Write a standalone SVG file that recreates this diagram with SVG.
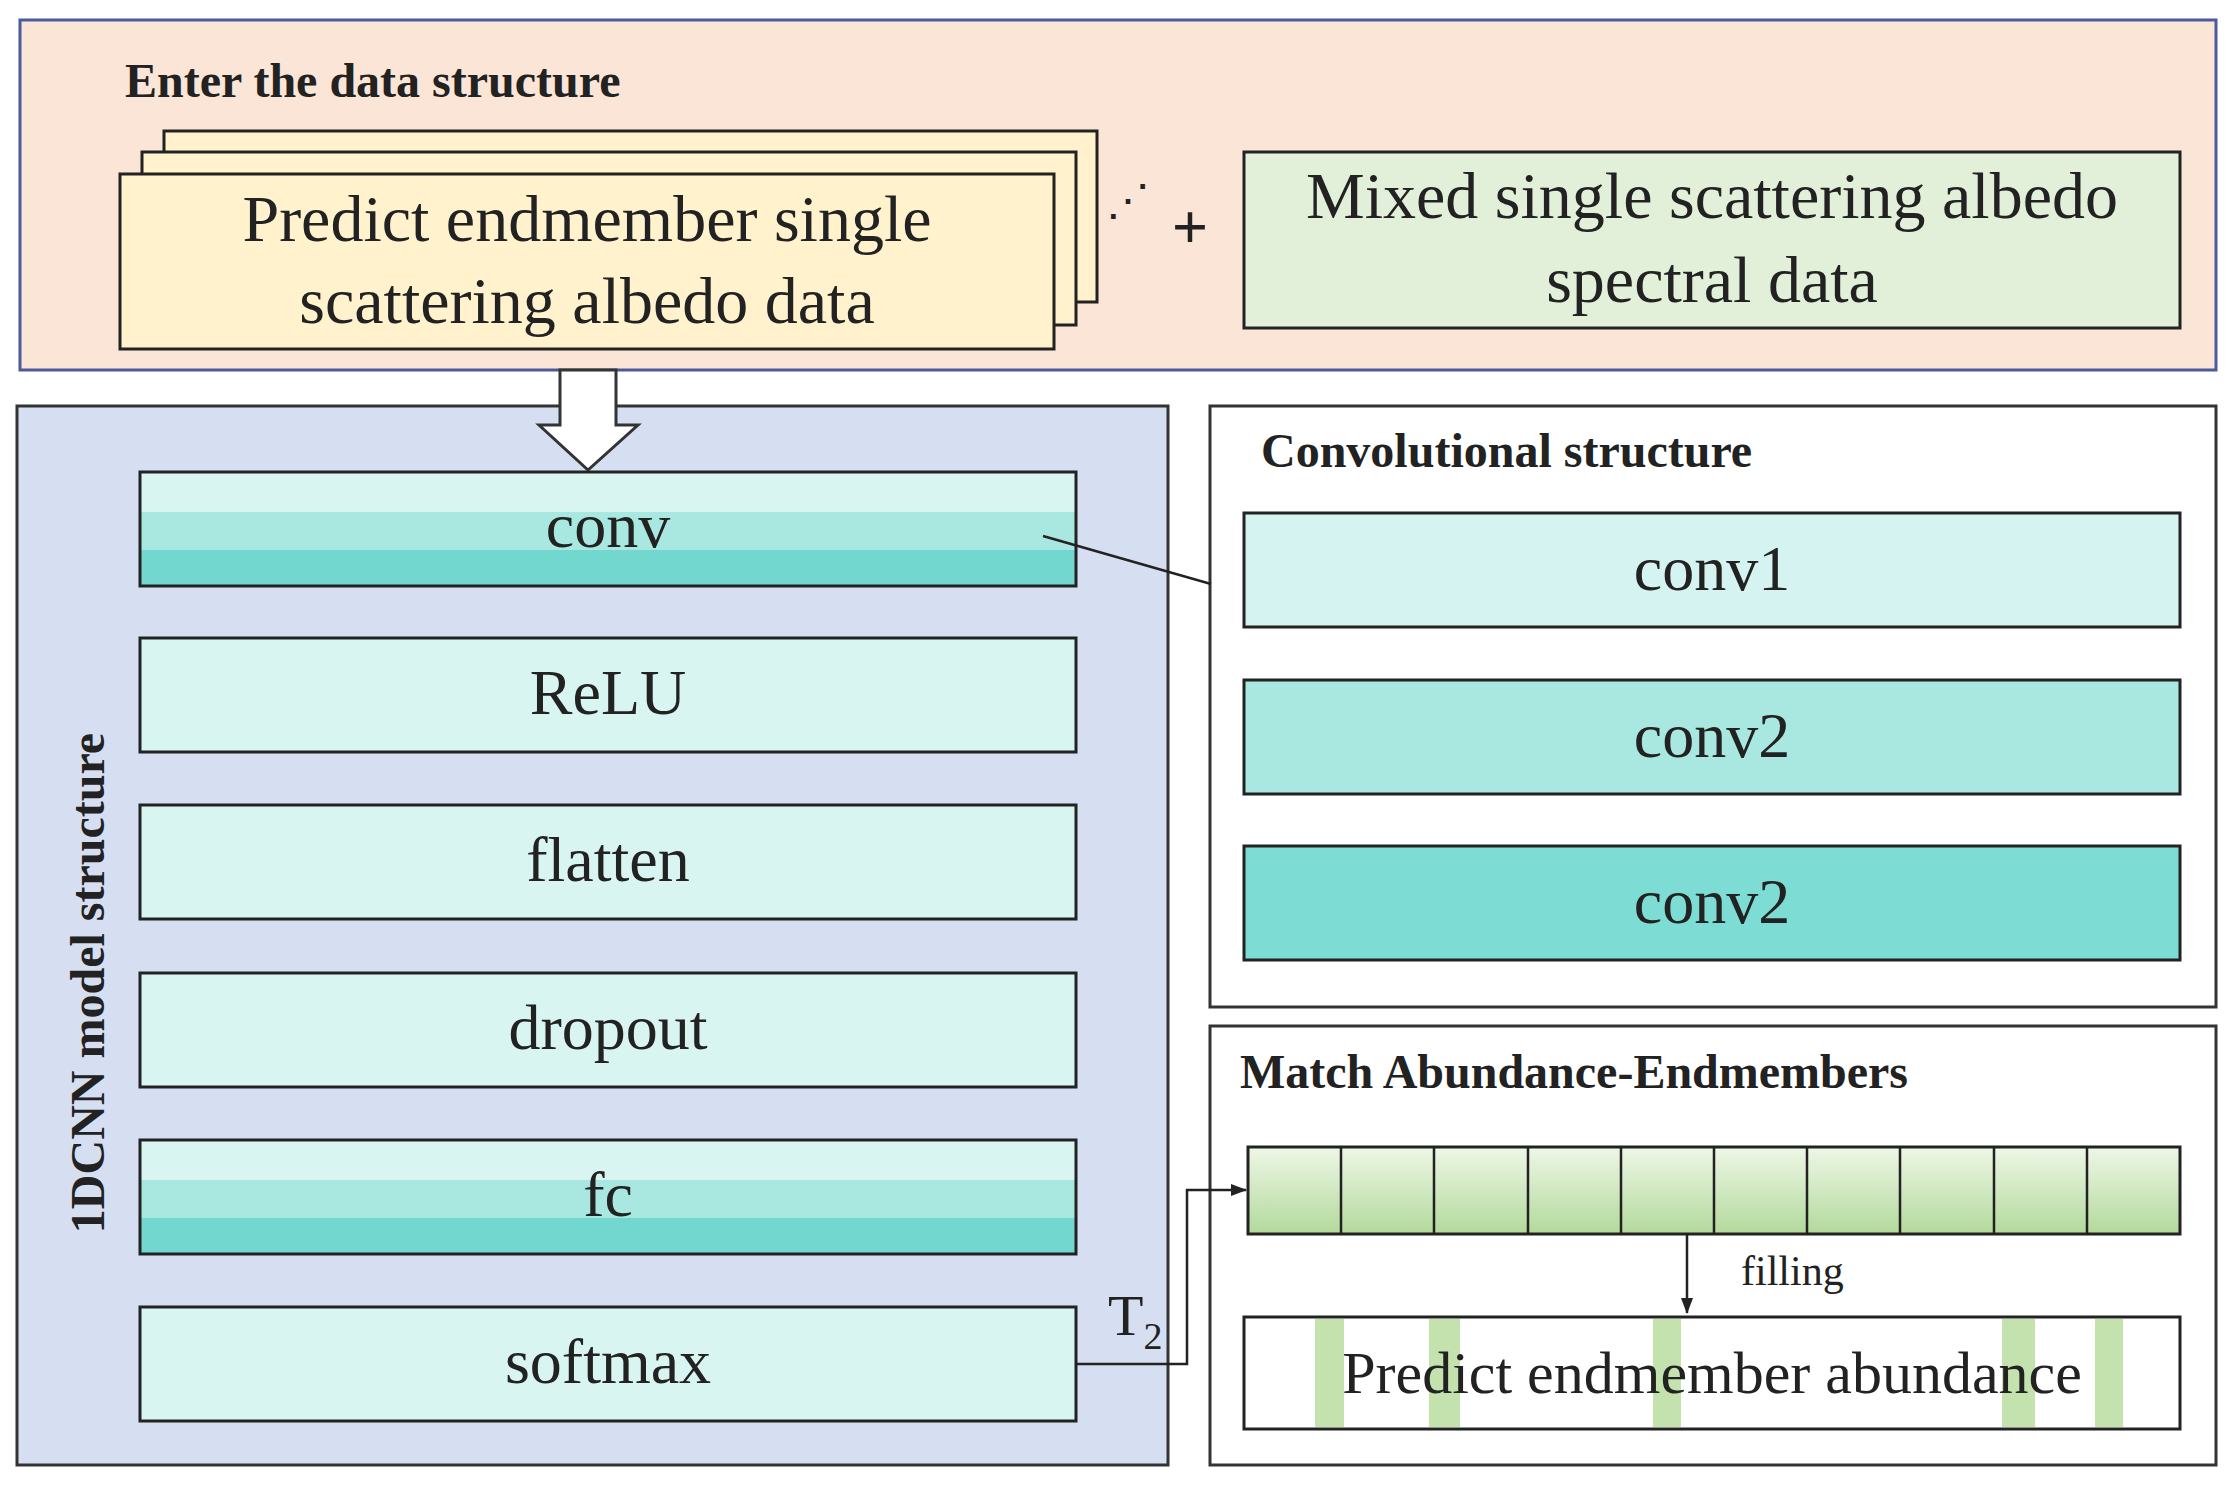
<svg xmlns="http://www.w3.org/2000/svg" width="2234" height="1487" viewBox="0 0 2234 1487">
<style>
.t{font-family:"Liberation Serif","Times New Roman",serif;fill:#222}
.b{font-weight:bold}
.c{text-anchor:middle}
.box{stroke:#222;stroke-width:3}
.ln{stroke:#222;stroke-width:2.5;fill:none}
</style>
<defs>
<linearGradient id="stripe" x1="0" y1="0" x2="0" y2="1">
<stop offset="0" stop-color="#d8f5f2"/><stop offset="0.35" stop-color="#d8f5f2"/>
<stop offset="0.35" stop-color="#a9e8e1"/><stop offset="0.68" stop-color="#a9e8e1"/>
<stop offset="0.68" stop-color="#72d8cf"/><stop offset="1" stop-color="#72d8cf"/>
</linearGradient>
<linearGradient id="cell" x1="0" y1="0" x2="0" y2="1">
<stop offset="0" stop-color="#eef7e6"/><stop offset="1" stop-color="#b2d99c"/>
</linearGradient>
<marker id="ah2" markerWidth="16" markerHeight="16" refX="15" refY="8" orient="auto" markerUnits="userSpaceOnUse" viewBox="0 0 16 16"><path d="M0,2 L16,8 L0,14z" fill="#222"/></marker>
</defs>
<rect width="2234" height="1487" fill="#fff"/>

<g id="input-panel">
<rect x="20" y="20" width="2196" height="350" fill="#fbe5d6" stroke="#4a5a9a" stroke-width="3"/>
<text x="125" y="97" class="t b" font-size="48">Enter the data structure</text>
</g>
<g id="endmember-cards">
<rect x="164" y="131" width="933" height="171" fill="#fff2cc" class="box"/>
<rect x="142" y="152" width="934" height="173" fill="#fff2cc" class="box"/>
<rect x="120" y="174" width="934" height="175" fill="#fff2cc" class="box"/>
<text x="587" y="241" class="t c" font-size="66">Predict endmember single</text>
<text x="587" y="323" class="t c" font-size="66">scattering albedo data</text>
<text x="1128" y="215" class="t c" font-size="44">⋰</text>
<text x="1190" y="248" class="t c b" font-size="64">+</text>
</g>
<g id="mixed-data">
<rect x="1244" y="152" width="936" height="176" fill="#e2f0d9" class="box"/>
<text x="1712" y="218" class="t c" font-size="66">Mixed single scattering albedo</text>
<text x="1712" y="302" class="t c" font-size="66">spectral data</text>
</g>

<g id="model-panel">
<rect x="17" y="406" width="1151" height="1059" fill="#d6dff2" stroke="#333" stroke-width="3"/>
<text transform="translate(104,983) rotate(-90)" class="t b c" font-size="48">1DCNN model structure</text>
<path d="M560,370 L616,370 L616,425 L638,425 L588,470 L539,425 L560,425 Z" fill="#fff" stroke="#333" stroke-width="3"/>
</g>
<g id="layer-conv"><rect x="140" y="472" width="936" height="114" fill="url(#stripe)" class="box"/><text x="608" y="547" class="t c" font-size="64">conv</text></g>
<g id="layer-relu"><rect x="140" y="638" width="936" height="114" fill="#d8f5f2" class="box"/><text x="608" y="714" class="t c" font-size="64">ReLU</text></g>
<g id="layer-flatten"><rect x="140" y="805" width="936" height="114" fill="#d8f5f2" class="box"/><text x="608" y="881" class="t c" font-size="64">flatten</text></g>
<g id="layer-dropout"><rect x="140" y="973" width="936" height="114" fill="#d8f5f2" class="box"/><text x="608" y="1049" class="t c" font-size="64">dropout</text></g>
<g id="layer-fc"><rect x="140" y="1140" width="936" height="114" fill="url(#stripe)" class="box"/><text x="608" y="1216" class="t c" font-size="64">fc</text></g>
<g id="layer-softmax"><rect x="140" y="1307" width="936" height="114" fill="#d8f5f2" class="box"/><text x="608" y="1383" class="t c" font-size="64">softmax</text></g>

<g id="conv-panel">
<rect x="1210" y="406" width="1006" height="601" fill="#fff" stroke="#333" stroke-width="3"/>
<text x="1261" y="467" class="t b" font-size="48">Convolutional structure</text>
</g>
<g id="conv1"><rect x="1244" y="513" width="936" height="114" fill="#d5f3f0" class="box"/><text x="1712" y="590" class="t c" font-size="64">conv1</text></g>
<g id="conv2a"><rect x="1244" y="680" width="936" height="114" fill="#a9e8e1" class="box"/><text x="1712" y="757" class="t c" font-size="64">conv2</text></g>
<g id="conv2b"><rect x="1244" y="846" width="936" height="114" fill="#7dddd5" class="box"/><text x="1712" y="923" class="t c" font-size="64">conv2</text></g>

<g id="match-panel">
<rect x="1210" y="1026" width="1006" height="439" fill="#fff" stroke="#333" stroke-width="3"/>
<text x="1240" y="1088" class="t b" font-size="48">Match Abundance-Endmembers</text>
</g>
<g id="cells">
<rect x="1248" y="1147" width="932" height="87" fill="url(#cell)" class="box"/>
<path d="M1341,1147V1234M1434,1147V1234M1528,1147V1234M1621,1147V1234M1714,1147V1234M1807,1147V1234M1900,1147V1234M1994,1147V1234M2087,1147V1234" class="ln"/>
</g>
<g id="abundance">
<rect x="1244" y="1317" width="936" height="112" fill="#fff" class="box"/>
<g fill="#c4e2ae">
<rect x="1315" y="1319" width="29" height="108"/><rect x="1429" y="1319" width="31" height="108"/><rect x="1653" y="1319" width="28" height="108"/><rect x="2002" y="1319" width="33" height="108"/><rect x="2095" y="1319" width="28" height="108"/>
</g>
<text x="1712" y="1393" class="t c" font-size="60">Predict endmember abundance</text>
</g>

<g id="connectors">
<line x1="1043" y1="536" x2="1211" y2="584" class="ln"/>
<path d="M1076,1364 H1187 V1190 H1246" class="ln" marker-end="url(#ah2)"/>
<line x1="1687" y1="1234" x2="1687" y2="1313" class="ln" marker-end="url(#ah2)"/>
<text x="1741" y="1285" class="t" font-size="42">filling</text>
<text x="1108" y="1335" class="t" font-size="58">T<tspan font-size="38" dy="14">2</tspan></text>
</g>
</svg>
